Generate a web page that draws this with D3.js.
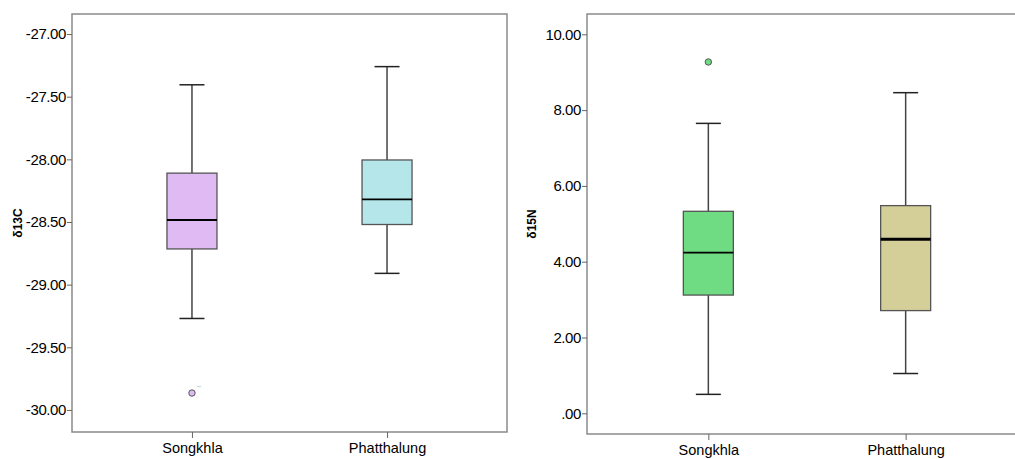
<!DOCTYPE html>
<html lang="en">
<head>
    <meta charset="UTF-8">
    <title>δ13C / δ15N box plots</title>
    <style>
        html, body {
            margin: 0;
            padding: 0;
            background: #fff;
            overflow: hidden;
        }
        svg text {
            font-family: "Liberation Sans", Arial, sans-serif;
        }
    </style>
</head>
<body>
    <svg id="chart" width="1015" height="459"></svg>

    <script src="https://d3js.org/d3.v7.min.js"></script>
    <script>
        // categories
        const categories = ['Songkhla', 'Phatthalung'];

        // δ13C: low whisker, Q1, median, Q3, high whisker
        const c13Low = [-29.27, -28.91];
        const c13Q1 = [-28.715, -28.52];
        const c13Median = [-28.485, -28.32];
        const c13Q3 = [-28.11, -28.005];
        const c13High = [-27.405, -27.26];
        const c13Outliers = [[-29.865], []];
        const c13Ticks = [-27, -27.5, -28, -28.5, -29, -29.5, -30];

        // δ15N
        const n15Low = [0.50, 1.05];
        const n15Q1 = [3.12, 2.71];
        const n15Median = [4.24, 4.59];
        const n15Q3 = [5.33, 5.48];
        const n15High = [7.65, 8.46];
        const n15Outliers = [[9.27], []];
        const n15Ticks = [0, 2, 4, 6, 8, 10];

        const svg = d3.select('#chart');
        // SPSS style: plain hyphen, ".00" for zero
        const fmt = d => d === 0 ? '.00' : d3.format('.2f')(d).replace('\u2212', '-');

        function drawPanel(p) {
            const x = d3.scalePoint().domain(categories)
                .range([p.left, p.right]).padding(0.615);
            const y = d3.scaleLinear().domain(p.domain).range([p.bottom, p.top]);
            const g = svg.append('g');

            // frame
            g.append('rect')
                .attr('x', p.left).attr('y', p.top)
                .attr('width', p.right - p.left).attr('height', p.bottom - p.top)
                .attr('fill', 'none').attr('stroke', '#8a8a8a').attr('stroke-width', 1.5);

            // y axis
            const yAxis = g.append('g')
                .attr('transform', `translate(${p.left},0)`)
                .call(d3.axisLeft(y).tickValues(p.ticks).tickFormat(fmt).tickSize(5).tickPadding(1));
            yAxis.select('.domain').remove();
            yAxis.selectAll('line').attr('stroke', '#666');
            yAxis.selectAll('text').style('font-size', '15px').attr('fill', '#000')
                .attr('letter-spacing', -0.4);

            // x axis
            const xAxis = g.append('g')
                .attr('transform', `translate(0,${p.bottom})`)
                .call(d3.axisBottom(x).tickSize(6).tickPadding(5));
            xAxis.select('.domain').remove();
            xAxis.selectAll('line').attr('stroke', '#666');
            xAxis.selectAll('text').style('font-size', '14.5px').attr('fill', '#000');

            // y title
            g.append('text')
                .attr('transform', `translate(${p.titleX},${(p.top + p.bottom) / 2}) rotate(-90)`)
                .attr('text-anchor', 'middle')
                .style('font-size', '12px').attr('font-weight', 'bold')
                .text(p.title);

            const bw = 50, cw = 25;
            categories.forEach((c, i) => {
                const cx = x(c);
                const box = g.append('g');
                // whisker stems
                box.append('line').attr('x1', cx).attr('x2', cx)
                    .attr('y1', y(p.high[i])).attr('y2', y(p.q3[i]))
                    .attr('stroke', '#444').attr('stroke-width', 1.5);
                box.append('line').attr('x1', cx).attr('x2', cx)
                    .attr('y1', y(p.q1[i])).attr('y2', y(p.low[i]))
                    .attr('stroke', '#444').attr('stroke-width', 1.5);
                // caps
                [p.high[i], p.low[i]].forEach(v => {
                    box.append('line').attr('x1', cx - cw / 2).attr('x2', cx + cw / 2)
                        .attr('y1', y(v)).attr('y2', y(v))
                        .attr('stroke', '#222').attr('stroke-width', 1.5);
                });
                // box
                box.append('rect')
                    .attr('x', cx - bw / 2).attr('y', y(p.q3[i]))
                    .attr('width', bw).attr('height', y(p.q1[i]) - y(p.q3[i]))
                    .attr('fill', p.colors[i]).attr('stroke', '#555').attr('stroke-width', 1.3);
                // median
                box.append('line').attr('x1', cx - bw / 2).attr('x2', cx + bw / 2)
                    .attr('y1', y(p.median[i])).attr('y2', y(p.median[i]))
                    .attr('stroke', '#000').attr('stroke-width', p.medW[i]);
                // outliers
                p.outliers[i].forEach(v => {
                    box.append('circle').attr('cx', cx).attr('cy', y(v)).attr('r', 3.2)
                        .attr('fill', p.colors[i]).attr('stroke', '#555').attr('stroke-width', 1);
                    if (p.caseLabel) {
                        box.append('text').attr('x', cx + 5).attr('y', y(v) - 5)
                            .style('font-size', '6px').attr('fill', '#777').text('--');
                    }
                });
            });
        }

        drawPanel({
            left: 72, right: 507, top: 14, bottom: 432,
            domain: [-30.176, -26.84], ticks: c13Ticks,
            title: 'δ13C', titleX: 22,
            low: c13Low, q1: c13Q1, median: c13Median, q3: c13Q3, high: c13High,
            outliers: c13Outliers, caseLabel: true,
            colors: ['#e0baf2', '#b5e6e9'], medW: [2, 1.8]
        });

        drawPanel({
            left: 587, right: 1027, top: 14, bottom: 434,
            domain: [-0.546, 10.536], ticks: n15Ticks,
            title: 'δ15N', titleX: 536,
            low: n15Low, q1: n15Q1, median: n15Median, q3: n15Q3, high: n15High,
            outliers: n15Outliers, caseLabel: false,
            colors: ['#6fdb82', '#d4cf98'], medW: [1.8, 3]
        });
    </script>
</body>
</html>
